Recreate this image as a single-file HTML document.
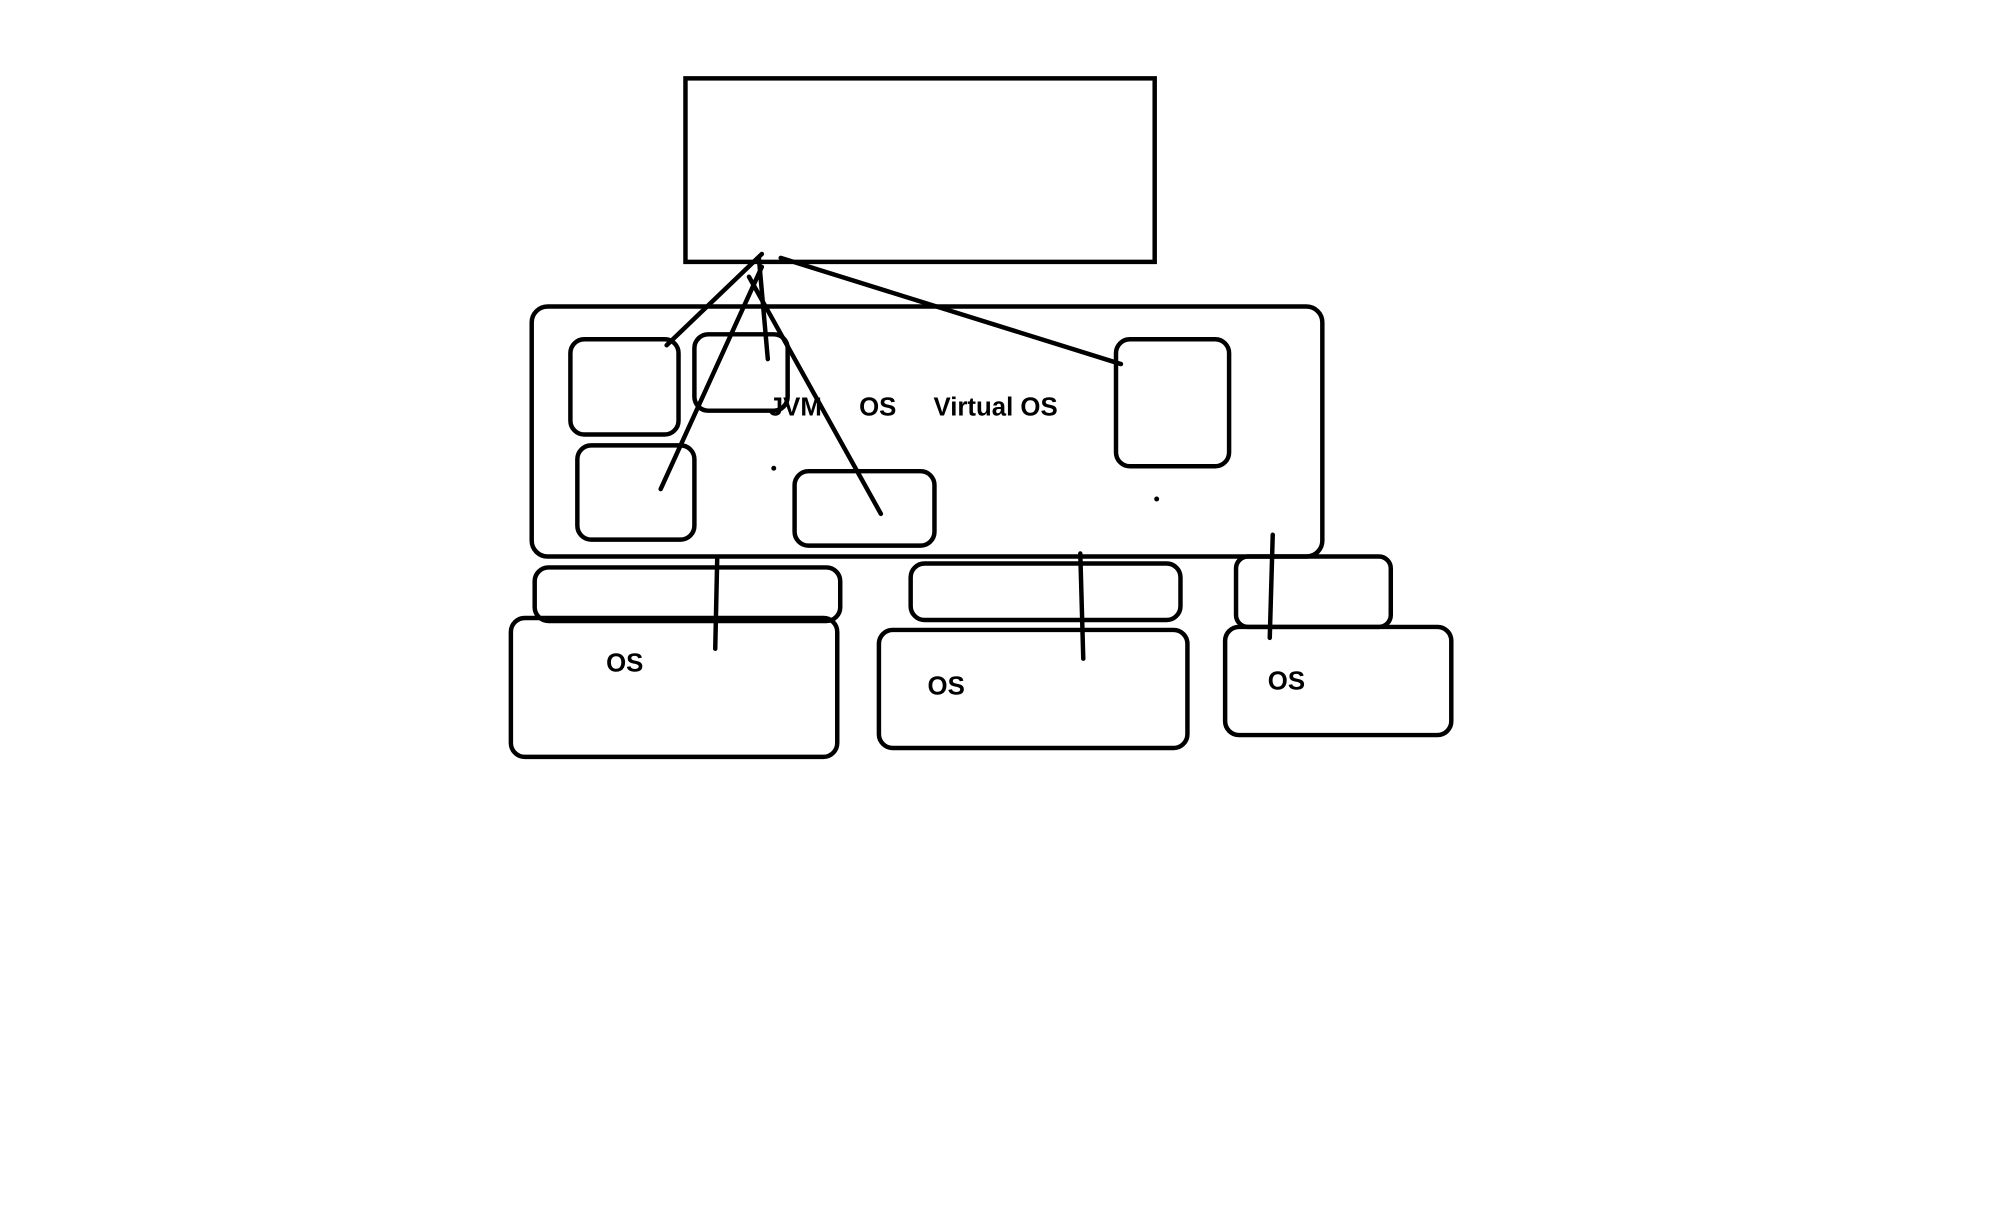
<!DOCTYPE html>
<html><head><meta charset="utf-8"><style>
html,body{margin:0;padding:0;background:#fff;width:1992px;height:1227px;overflow:hidden}
text{font-family:"Liberation Sans",Arial,sans-serif;font-weight:bold;font-size:26px;fill:#000}
</style></head><body>
<svg width="1992" height="1227" viewBox="0 0 1992 1227" xmlns="http://www.w3.org/2000/svg">
<g transform="scale(0.992)">
<g fill="none" stroke="#000" stroke-width="4.5" stroke-linecap="round">
<rect x="691" y="79" width="473" height="185"/>
<rect x="536" y="309" width="797" height="252" rx="16"/>
<rect x="575" y="342" width="109" height="96" rx="14"/>
<rect x="700" y="337" width="94" height="77" rx="14"/>
<rect x="582" y="449" width="118" height="95" rx="14"/>
<rect x="801" y="475" width="141" height="75" rx="14"/>
<rect x="1125" y="342" width="114" height="128" rx="14"/>
<line x1="768" y1="256" x2="672" y2="348"/>
<line x1="765" y1="260" x2="774" y2="362"/>
<line x1="768" y1="269" x2="666" y2="493"/>
<line x1="755" y1="279" x2="888" y2="518"/>
<line x1="787" y1="260" x2="1130" y2="367"/>
<rect x="539" y="572" width="308" height="54" rx="14"/>
<rect x="515" y="623" width="329" height="140" rx="14"/>
<line x1="723" y1="563" x2="721" y2="654"/>
<rect x="918" y="568" width="272" height="57" rx="14"/>
<rect x="886" y="635" width="311" height="119" rx="14"/>
<line x1="1089" y1="558" x2="1092" y2="664"/>
<rect x="1246" y="561" width="156" height="71" rx="12"/>
<rect x="1235" y="632" width="228" height="109" rx="14"/>
<line x1="1283" y1="539" x2="1280" y2="643"/>
</g>
<circle cx="780" cy="472" r="2.5" fill="#000"/>
<circle cx="1166" cy="503" r="2.5" fill="#000"/>
<text x="775" y="419">JVM</text>
<text x="866" y="419">OS</text>
<text x="941" y="419">Virtual OS</text>
<text x="611" y="677">OS</text>
<text x="935" y="700">OS</text>
<text x="1278" y="695">OS</text>
</g>
</svg>
</body></html>
